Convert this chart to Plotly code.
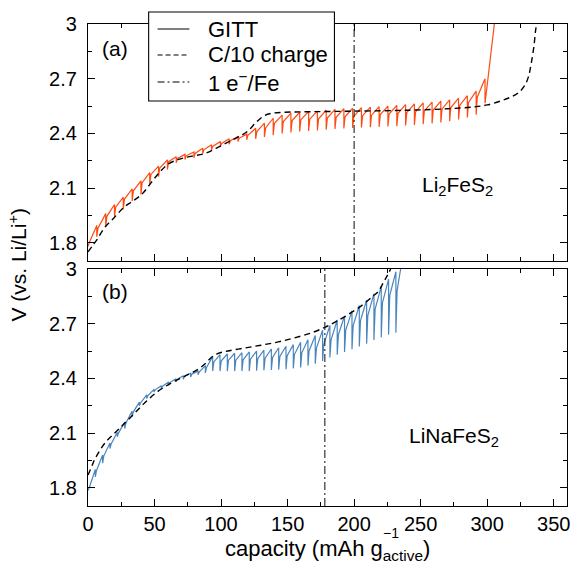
import plotly.graph_objects as go
from plotly.subplots import make_subplots

# ---------------- (a) Li2FeS2 ----------------
# capacity at the end of each GITT current pulse (mAh/g)
a_cap = [6.6, 13.3, 19.9, 26.5, 33.2, 39.8, 46.4, 53.0, 59.7, 66.3,
         72.9, 79.6, 86.2, 92.8, 99.5, 106.1, 112.7, 119.3, 126.0, 132.6,
         139.2, 145.9, 152.5, 159.1, 165.8, 172.4, 179.0, 185.6, 192.3, 198.9,
         205.5, 212.2, 218.8, 225.4, 232.1, 238.7, 245.3, 251.9, 258.6, 265.2,
         271.8, 278.5, 285.1, 291.7, 298.4]
# voltage just after current is switched on (one per pulse, incl. the last one)
a_v_on = [1.80, 1.88, 1.945, 1.995, 2.04, 2.085, 2.13, 2.175, 2.21, 2.245,
          2.263, 2.277, 2.29, 2.31, 2.328, 2.345, 2.36, 2.373, 2.39, 2.41,
          2.43, 2.455, 2.465, 2.47, 2.475, 2.478, 2.48, 2.484, 2.488, 2.491,
          2.494, 2.497, 2.50, 2.503, 2.506, 2.51, 2.514, 2.518, 2.523, 2.528,
          2.534, 2.542, 2.553, 2.57, 2.60, 2.62]
# voltage at the end of each pulse
a_v_end = [1.895, 1.96, 2.01, 2.05, 2.095, 2.14, 2.185, 2.22, 2.255, 2.272,
           2.285, 2.298, 2.318, 2.337, 2.355, 2.37, 2.383, 2.396, 2.428, 2.456,
           2.483, 2.50, 2.511, 2.516, 2.52, 2.523, 2.528, 2.532, 2.535, 2.538,
           2.541, 2.544, 2.547, 2.55, 2.554, 2.558, 2.562, 2.567, 2.572, 2.577,
           2.584, 2.593, 2.607, 2.632, 2.70]
# relaxed voltage after each rest period
a_v_rest = [1.833, 1.888, 1.943, 1.983, 2.029, 2.065, 2.12, 2.162, 2.202, 2.239,
            2.257, 2.266, 2.29, 2.31, 2.33, 2.34, 2.355, 2.365, 2.37, 2.38,
            2.39, 2.40, 2.405, 2.41, 2.413, 2.416, 2.42, 2.424, 2.427, 2.43,
            2.432, 2.434, 2.436, 2.438, 2.44, 2.443, 2.446, 2.45, 2.455, 2.46,
            2.467, 2.476, 2.487, 2.502, 2.565]
a_v_start = 1.78
a_final = (305.4, 3.0)

# C/10 galvanostatic charge
a_c10_cap = [0, 3, 6.5, 12.7, 20, 27, 34, 41, 47.5, 53, 60, 68, 78, 88, 98,
             108, 116, 121, 126, 132, 138, 148, 160, 200, 240, 270, 290, 300,
             311, 318, 323, 328, 331, 333, 335, 336.5, 337.2]
a_c10_v = [1.75, 1.78, 1.815, 1.885, 1.94, 1.995, 2.03, 2.07, 2.13, 2.18, 2.23,
           2.257, 2.275, 2.29, 2.325, 2.362, 2.392, 2.418, 2.458, 2.495, 2.51,
           2.516, 2.518, 2.522, 2.527, 2.535, 2.545, 2.556, 2.58, 2.60, 2.62,
           2.66, 2.71, 2.78, 2.87, 2.97, 3.0]
a_one_e = 200

# ---------------- (b) LiNaFeS2 ----------------
b_cap = [5.5, 11.0, 16.5, 22.0, 27.6, 33.1, 38.6, 44.1, 49.6, 55.1,
         60.6, 66.1, 71.6, 77.1, 82.7, 88.2, 93.7, 99.2, 104.7, 110.2,
         115.7, 121.2, 126.7, 132.2, 137.8, 143.3, 148.8, 154.3, 159.8, 165.3,
         170.8, 176.3, 181.8, 187.3, 192.8, 198.4, 203.9, 209.4, 214.9, 220.4,
         225.9, 231.4]
b_v_on = [1.80, 1.895, 1.975, 2.04, 2.10, 2.155, 2.215, 2.265, 2.305, 2.337,
          2.357, 2.377, 2.395, 2.41, 2.423, 2.435, 2.46, 2.49, 2.495, 2.50,
          2.50, 2.502, 2.505, 2.508, 2.511, 2.515, 2.52, 2.525, 2.532, 2.54,
          2.552, 2.566, 2.585, 2.612, 2.64, 2.665, 2.69, 2.717, 2.745, 2.78,
          2.815, 2.855, 2.88]
b_v_end = [1.90, 1.98, 2.045, 2.105, 2.16, 2.22, 2.27, 2.31, 2.34, 2.36,
           2.38, 2.398, 2.415, 2.428, 2.44, 2.47, 2.52, 2.53, 2.535, 2.538,
           2.541, 2.545, 2.55, 2.555, 2.561, 2.568, 2.576, 2.585, 2.598, 2.612,
           2.635, 2.665, 2.69, 2.72, 2.742, 2.77, 2.80, 2.83, 2.865, 2.905,
           2.945, 2.985]
b_v_rest = [1.86, 1.935, 2.015, 2.08, 2.125, 2.19, 2.25, 2.29, 2.325, 2.345,
            2.362, 2.38, 2.395, 2.408, 2.42, 2.43, 2.44, 2.44, 2.44, 2.44,
            2.44, 2.44, 2.442, 2.444, 2.446, 2.448, 2.45, 2.455, 2.46, 2.47,
            2.48, 2.495, 2.515, 2.53, 2.545, 2.56, 2.575, 2.59, 2.61, 2.625,
            2.64, 2.65]
b_v_start = 1.785
b_final = (235.6, 3.03)

b_c10_cap = [0, 3, 5, 12.7, 22.6, 32.6, 42.5, 52.5, 62.4, 72.4, 82.3, 88,
             92.3, 97, 105, 118, 130, 143, 155, 168, 178, 186, 195.5, 206.7,
             214, 218, 222, 225, 227.5]
b_c10_v = [1.87, 1.92, 1.955, 2.045, 2.118, 2.191, 2.265, 2.329, 2.374, 2.411,
           2.448, 2.48, 2.512, 2.535, 2.55, 2.567, 2.582, 2.60, 2.622, 2.65,
           2.68, 2.71, 2.75, 2.805, 2.85, 2.875, 2.925, 2.965, 3.0]
b_one_e = 178

# axis ticks
x_major = [0, 50, 100, 150, 200, 250, 300, 350]
x_minor = [25, 75, 125, 175, 225, 275, 325]
y_major = [1.8, 2.1, 2.4, 2.7, 3.0]
y_major_text = ["1.8", "2.1", "2.4", "2.7", "3"]
y_minor = [1.95, 2.25, 2.55, 2.85]

# legend entries
legend_labels = ["GITT", "C/10 charge", "1 e<sup>\u2212</sup>/Fe"]

ORANGE = "#FF4A12"
BLUE = "#4A86BE"
FONT = "Liberation Sans, Arial, sans-serif"
DASH = "6px,4px"
DASHDOT = "8px,3px,2px,3px"
legend_dashes = ["solid", "5px,3px", "7px,3px,2px,3px"]
OHMIC_STEP = 0.9  # drawn width of the IR jump at the start of a pulse


def gitt_path(cap, v_on, v_end, v_rest, v_start, final):
    xs, ys = [0.0], [v_start]
    prev = 0.0
    for c, von, vend, vrest in zip(cap, v_on[:-1], v_end, v_rest):
        xs += [prev + OHMIC_STEP, c, c]
        ys += [von, vend, vrest]
        prev = c
    xs += [prev + OHMIC_STEP, final[0]]
    ys += [v_on[-1], final[1]]
    return xs, ys


fig = make_subplots(rows=2, cols=1, shared_xaxes=True, vertical_spacing=0.02)

for row, (gx, gy, col, cx, cy, ve) in enumerate([
        (*gitt_path(a_cap, a_v_on, a_v_end, a_v_rest, a_v_start, a_final),
         ORANGE, a_c10_cap, a_c10_v, a_one_e),
        (*gitt_path(b_cap, b_v_on, b_v_end, b_v_rest, b_v_start, b_final),
         BLUE, b_c10_cap, b_c10_v, b_one_e)], start=1):
    fig.add_trace(go.Scatter(x=gx, y=gy, mode="lines", showlegend=False,
                             line=dict(color=col, width=1.2)), row=row, col=1)
    fig.add_trace(go.Scatter(x=cx, y=cy, mode="lines", showlegend=False,
                             line=dict(color="black", width=1.4, dash=DASH),
                             line_shape="spline"), row=row, col=1)
    fig.add_trace(go.Scatter(x=[ve, ve], y=[1.7, 3.0], mode="lines",
                             showlegend=False,
                             line=dict(color="#222222", width=1.1, dash=DASHDOT)),
                  row=row, col=1)

axis_common = dict(showline=True, linecolor="black", linewidth=1.3,
                   mirror="ticks", ticks="inside", ticklen=7, tickwidth=1.1,
                   tickcolor="black", showgrid=False, zeroline=False,
                   tickfont=dict(family=FONT, size=20, color="black"))

for r in (1, 2):
    fig.update_xaxes(range=[0, 360], tickvals=x_major,
                     minor=dict(tickvals=x_minor, ticks="inside", ticklen=4,
                                tickcolor="black", tickwidth=1.1),
                     showticklabels=(r == 2), row=r, col=1, **axis_common)
    fig.update_yaxes(range=[1.7, 3.0], tickvals=y_major, ticktext=y_major_text,
                     minor=dict(tickvals=y_minor, ticks="inside", ticklen=4,
                                tickcolor="black", tickwidth=1.1),
                     ticklabelstandoff=6, row=r, col=1, **axis_common)

# legend box drawn in paper coordinates, overlapping the top frame
shapes = [dict(type="rect", xref="paper", yref="paper",
               x0=0.1266, x1=0.5145, y0=0.8402, y1=1.0249,
               fillcolor="white", line=dict(color="black", width=1.1),
               layer="above")]
annotations = []
row_y = [0.9896, 0.9357, 0.8797]
for lbl, dsh, yy in zip(legend_labels, legend_dashes, row_y):
    shapes.append(dict(type="line", xref="paper", yref="paper",
                       x0=0.1452, x1=0.2116, y0=yy, y1=yy, layer="above",
                       line=dict(color="black", width=1.2, dash=dsh)))
    annotations.append(dict(text=lbl, x=0.2469, y=yy, xref="paper", yref="paper",
                            xanchor="left", yanchor="middle", showarrow=False,
                            font=dict(size=22)))

annotations += [
    dict(text="(a)", x=9, y=2.868, xref="x", yref="y", showarrow=False,
         xanchor="left", yanchor="middle", font=dict(size=21)),
    dict(text="(b)", x=9, y=2.875, xref="x2", yref="y2", showarrow=False,
         xanchor="left", yanchor="middle", font=dict(size=21)),
    dict(text="Li<sub>2</sub>FeS<sub>2</sub>", x=277.6, y=2.112,
         xref="x", yref="y", showarrow=False, font=dict(size=21)),
    dict(text="LiNaFeS<sub>2</sub>", x=275.4, y=2.079,
         xref="x2", yref="y2", showarrow=False, font=dict(size=21)),
    dict(text="V (vs. Li/Li<sup>+</sup>)", x=-0.147, y=0.5,
         xref="paper", yref="paper", textangle=-90, showarrow=False,
         xanchor="center", yanchor="middle", font=dict(size=21)),
    dict(text="capacity (mAh g<sub>active</sub>)", x=0.5, y=-0.092,
         xref="paper", yref="paper", xanchor="center", yanchor="middle",
         showarrow=False, font=dict(size=22)),
    dict(text="\u22121", x=0.611, y=-0.056, xref="paper", yref="paper",
         xanchor="left", yanchor="middle", showarrow=False,
         font=dict(size=14)),
]

fig.update_layout(
    width=576, height=573,
    margin=dict(l=88, r=6, t=24, b=67),
    paper_bgcolor="white", plot_bgcolor="white",
    font=dict(family=FONT, size=21, color="black"),
    yaxis=dict(domain=[0.5083, 1.0]),
    yaxis2=dict(domain=[0.0, 0.4917]),
    showlegend=False,
    shapes=shapes,
    annotations=annotations,
)

fig.write_html("out.html")
